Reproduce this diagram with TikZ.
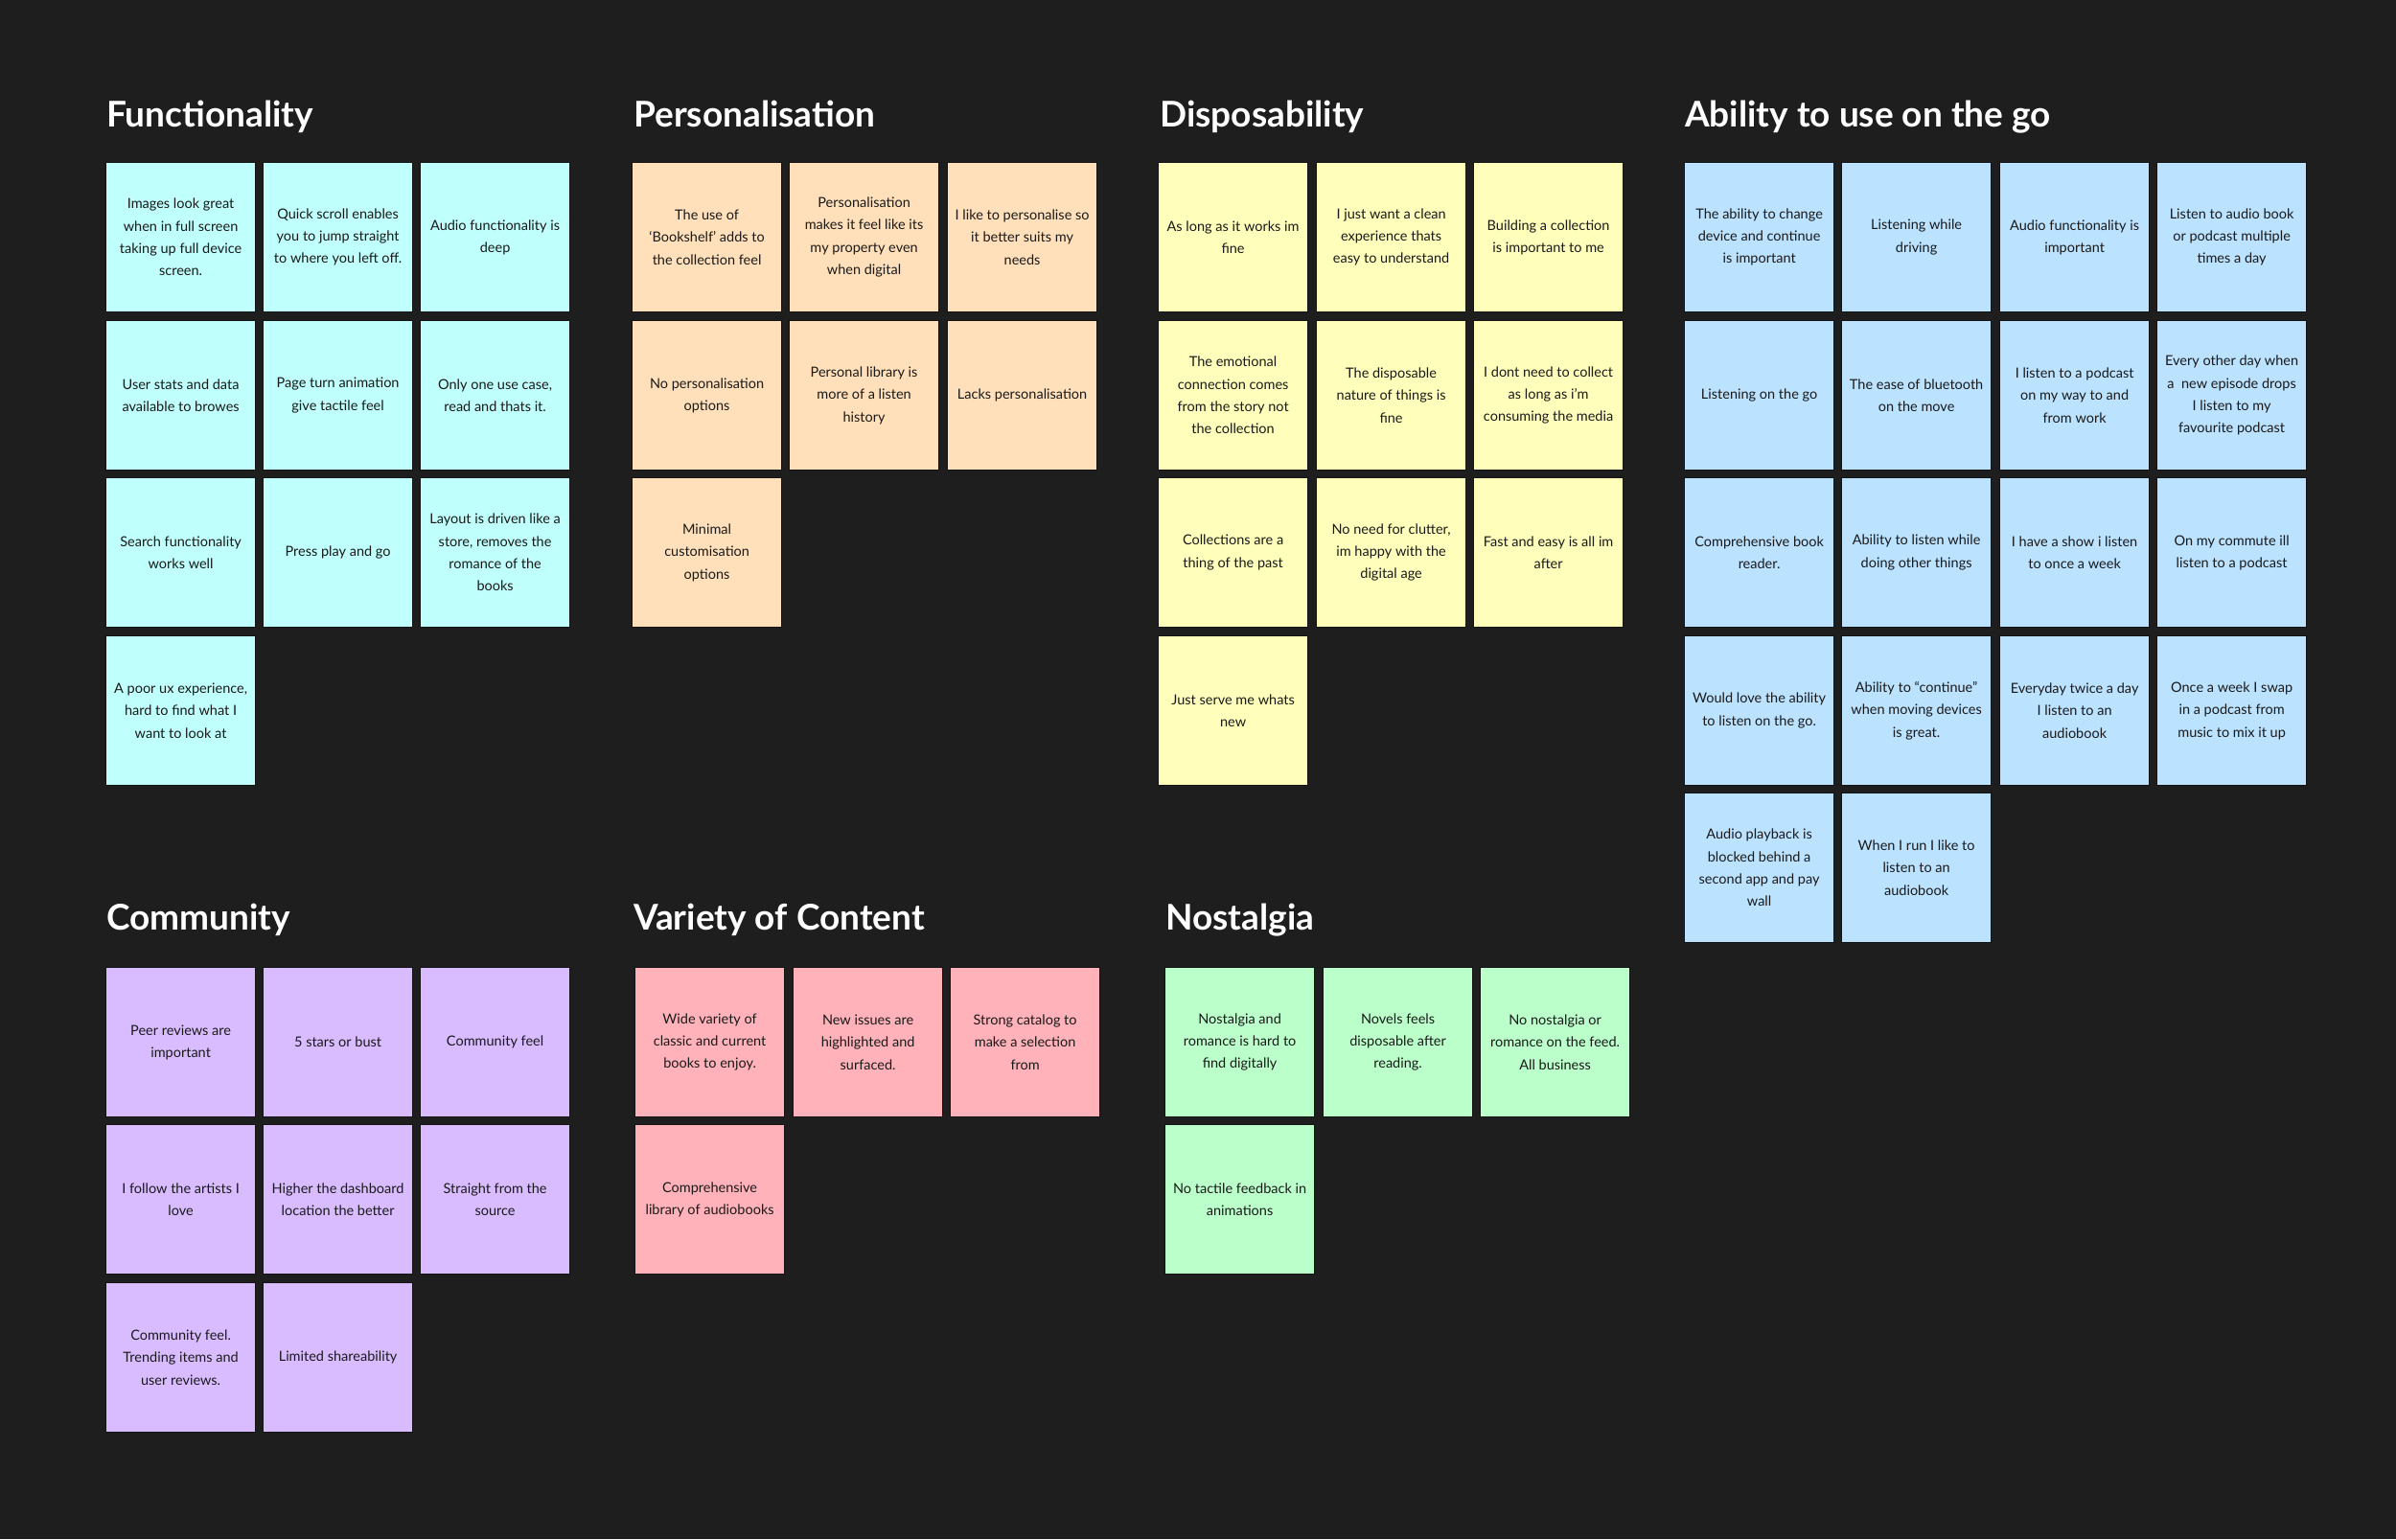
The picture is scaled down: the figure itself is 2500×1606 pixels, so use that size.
\documentclass[tikz,border=0pt]{standalone}
\usepackage{fontspec}
\setmainfont{Lato}
\definecolor{bgc}{HTML}{1E1E1E}
\definecolor{cfunc}{HTML}{BFFFFC}
\definecolor{cpers}{HTML}{FFE0BA}
\definecolor{cdisp}{HTML}{FFFFBB}
\definecolor{cabil}{HTML}{BBE2FF}
\definecolor{ccomm}{HTML}{D9BCFF}
\definecolor{cvari}{HTML}{FFB2BA}
\definecolor{cnost}{HTML}{BBFFCA}
\definecolor{notetext}{HTML}{1A1A1A}
\definecolor{noteedge}{HTML}{141414}
\newcommand{\stickynote}[5]{\node[sticky, fill=#4] (#1) at (#2,#3) {#5};}
\begin{document}
\begin{tikzpicture}[x=1pt,y=-1pt,
  sticky/.style={anchor=north west, draw=noteedge, line width=1.2pt,
    minimum width=156pt, minimum height=156pt, inner sep=0pt, align=center,
    text=notetext, font=\fontsize{14.5}{23.3}\selectfont},
  grouptitle/.style={anchor=base west, inner sep=0pt, text=white,
    font=\fontsize{37}{40}\selectfont\bfseries}]
\useasboundingbox (0,0) rectangle (2500,1606);
\fill[bgc] (0,0) rectangle (2500,1606);

% Titles
\node[grouptitle] (tf) at (111,132) {Functionality};
\node[grouptitle] (tp) at (661,132) {Personalisation};
\node[grouptitle] (td) at (1210,132) {Disposability};
\node[grouptitle] (ta) at (1758,132) {Ability to use on the go};
\node[grouptitle] (tc) at (111,970) {Community};
\node[grouptitle] (tv) at (661,970) {Variety of Content};
\node[grouptitle] (tn) at (1216,970) {Nostalgia};

% Functionality
\stickynote{f1}{110}{169}{cfunc}{Images look great\\when in full screen\\taking up full device\\screen.}
\stickynote{f2}{274}{169}{cfunc}{Quick scroll enables\\you to jump straight\\to where you left off.}
\stickynote{f3}{438}{169}{cfunc}{Audio functionality is\\deep}
\stickynote{f4}{110}{334}{cfunc}{User stats and data\\available to browes}
\stickynote{f5}{274}{334}{cfunc}{Page turn animation\\give tactile feel}
\stickynote{f6}{438}{334}{cfunc}{Only one use case,\\read and thats it.}
\stickynote{f7}{110}{498}{cfunc}{Search functionality\\works well}
\stickynote{f8}{274}{498}{cfunc}{Press play and go}
\stickynote{f9}{438}{498}{cfunc}{Layout is driven like a\\store, removes the\\romance of the\\books}
\stickynote{f10}{110}{663}{cfunc}{A poor ux experience,\\hard to find what I\\want to look at}

% Personalisation
\stickynote{p1}{659}{169}{cpers}{The use of\\‘Bookshelf’ adds to\\the collection feel}
\stickynote{p2}{823}{169}{cpers}{Personalisation\\makes it feel like its\\my property even\\when digital}
\stickynote{p3}{988}{169}{cpers}{I like to personalise so\\it better suits my\\needs}
\stickynote{p4}{659}{334}{cpers}{No personalisation\\options}
\stickynote{p5}{823}{334}{cpers}{Personal library is\\more of a listen\\history}
\stickynote{p6}{988}{334}{cpers}{Lacks personalisation}
\stickynote{p7}{659}{498}{cpers}{Minimal\\customisation\\options}

% Disposability
\stickynote{d1}{1208}{169}{cdisp}{As long as it works im\\fine}
\stickynote{d2}{1373}{169}{cdisp}{I just want a clean\\experience thats\\easy to understand}
\stickynote{d3}{1537}{169}{cdisp}{Building a collection\\is important to me}
\stickynote{d4}{1208}{334}{cdisp}{The emotional\\connection comes\\from the story not\\the collection}
\stickynote{d5}{1373}{334}{cdisp}{The disposable\\nature of things is\\fine}
\stickynote{d6}{1537}{334}{cdisp}{I dont need to collect\\as long as i’m\\consuming the media}
\stickynote{d7}{1208}{498}{cdisp}{Collections are a\\thing of the past}
\stickynote{d8}{1373}{498}{cdisp}{No need for clutter,\\im happy with the\\digital age}
\stickynote{d9}{1537}{498}{cdisp}{Fast and easy is all im\\after}
\stickynote{d10}{1208}{663}{cdisp}{Just serve me whats\\new}

% Ability to use on the go
\stickynote{a1}{1757}{169}{cabil}{The ability to change\\device and continue\\is important}
\stickynote{a2}{1921}{169}{cabil}{Listening while\\driving}
\stickynote{a3}{2086}{169}{cabil}{Audio functionality is\\important}
\stickynote{a4}{2250}{169}{cabil}{Listen to audio book\\or podcast multiple\\times a day}
\stickynote{a5}{1757}{334}{cabil}{Listening on the go}
\stickynote{a6}{1921}{334}{cabil}{The ease of bluetooth\\on the move}
\stickynote{a7}{2086}{334}{cabil}{I listen to a podcast\\on my way to and\\from work}
\stickynote{a8}{2250}{334}{cabil}{Every other day when\\a\ \ new episode drops\\I listen to my\\favourite podcast}
\stickynote{a9}{1757}{498}{cabil}{Comprehensive book\\reader.}
\stickynote{a10}{1921}{498}{cabil}{Ability to listen while\\doing other things}
\stickynote{a11}{2086}{498}{cabil}{I have a show i listen\\to once a week}
\stickynote{a12}{2250}{498}{cabil}{On my commute ill\\listen to a podcast}
\stickynote{a13}{1757}{663}{cabil}{Would love the ability\\to listen on the go.}
\stickynote{a14}{1921}{663}{cabil}{Ability to “continue”\\when moving devices\\is great.}
\stickynote{a15}{2086}{663}{cabil}{Everyday twice a day\\I listen to an\\audiobook}
\stickynote{a16}{2250}{663}{cabil}{Once a week I swap\\in a podcast from\\music to mix it up}
\stickynote{a17}{1757}{827}{cabil}{Audio playback is\\blocked behind a\\second app and pay\\wall}
\stickynote{a18}{1921}{827}{cabil}{When I run I like to\\listen to an\\audiobook}

% Community
\stickynote{c1}{110}{1009}{ccomm}{Peer reviews are\\important}
\stickynote{c2}{274}{1009}{ccomm}{5 stars or bust}
\stickynote{c3}{438}{1009}{ccomm}{Community feel}
\stickynote{c4}{110}{1173}{ccomm}{I follow the artists I\\love}
\stickynote{c5}{274}{1173}{ccomm}{Higher the dashboard\\location the better}
\stickynote{c6}{438}{1173}{ccomm}{Straight from the\\source}
\stickynote{c7}{110}{1338}{ccomm}{Community feel.\\Trending items and\\user reviews.}
\stickynote{c8}{274}{1338}{ccomm}{Limited shareability}

% Variety of Content
\stickynote{v1}{662}{1009}{cvari}{Wide variety of\\classic and current\\books to enjoy.}
\stickynote{v2}{827}{1009}{cvari}{New issues are\\highlighted and\\surfaced.}
\stickynote{v3}{991}{1009}{cvari}{Strong catalog to\\make a selection\\from}
\stickynote{v4}{662}{1173}{cvari}{Comprehensive\\library of audiobooks}

% Nostalgia
\stickynote{n1}{1215}{1009}{cnost}{Nostalgia and\\romance is hard to\\find digitally}
\stickynote{n2}{1380}{1009}{cnost}{Novels feels\\disposable after\\reading.}
\stickynote{n3}{1544}{1009}{cnost}{No nostalgia or\\romance on the feed.\\All business}
\stickynote{n4}{1215}{1173}{cnost}{No tactile feedback in\\animations}
\end{tikzpicture}
\end{document}
